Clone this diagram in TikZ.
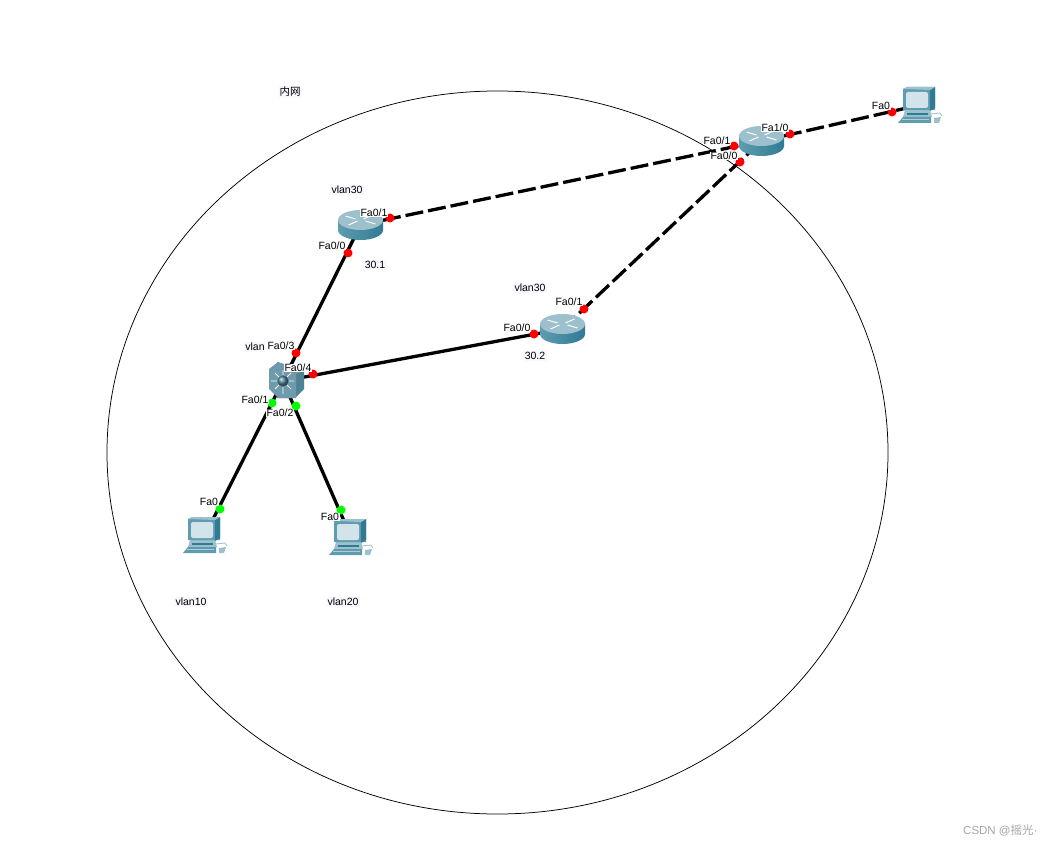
\documentclass[tikz,border=0pt]{standalone}
\usepackage{fontspec}
\usetikzlibrary{shapes.geometric}
\setmainfont{Liberation Sans}
\newfontfamily\cjkf{Noto Sans CJK SC}
\definecolor{tealdark}{HTML}{2F7B93}
\definecolor{tealmid}{HTML}{5F9CB0}
\definecolor{teallite}{HTML}{D3E3EA}
\definecolor{tealpale}{HTML}{9CC0CC}
\definecolor{swbody}{HTML}{6F9AAC}
\definecolor{swside}{HTML}{4F8296}
\definecolor{labelbg}{HTML}{F8F8FF}
\tikzset{
  x=1pt,y=-1pt,
  device/.style={inner sep=0pt,minimum size=2pt},
  link/.style={line width=3.3pt,black},
  dashlink/.style={link,dash pattern=on 18pt off 5pt},
  dotred/.style={circle,fill=red,inner sep=0pt,minimum size=9pt},
  dotgreen/.style={circle,fill=green,inner sep=0pt,minimum size=9pt},
  port/.style={fill=white,inner sep=0.5pt,font=\fontsize{10.5}{12}\selectfont,text=black},
  note/.style={fill=labelbg,inner sep=1.5pt,font=\fontsize{10.5}{12}\selectfont,text=black},
  router/.pic={
    \path[left color=tealmid,middle color=teallite,right color=tealdark]
      (-22.5,-5) -- (-22.5,5) arc[x radius=22.5,y radius=10,start angle=180,end angle=0] -- (22.5,-5) -- cycle;
    \fill[tealpale] (0,-5) ellipse[x radius=22.5,y radius=10];
    \draw[white,line width=1pt] (-15,-9) -- (-5,-6) (15,-1) -- (5,-4) (-12,0) -- (-3,-4) (12,-10) -- (3,-6);
  },
  switchicon/.pic={
    \fill[swside] (-6,-19) -- (21,-10) -- (21,8) -- (12,17) -- (-6,17) -- cycle;
    \fill[swbody] (-14,-12) -- (-5,-19) -- (21,-10) -- (13,-7) -- (13,17) -- (-5,17) -- (-14,8) -- cycle;
    \draw[white,line width=0.9pt] (-6,0) -- (-12,0) (6,0) -- (11,0) (0,-6) -- (0,-11) (0,6) -- (0,13)
      (-4,-4) -- (-8,-8) (4,-4) -- (8,-8) (-4,4) -- (-8,8) (4,4) -- (8,8);
    \shade[ball color=swside] (0,0) circle[radius=5.5];
  },
  pcicon/.pic={
    \fill[tealpale] (-15,5) -- (10,5) -- (12,12) -- (-17,12) -- cycle;
    \fill[tealmid] (-17,-16) -- (-13,-18) -- (15,-18) -- (15,5) -- (-17,5) -- cycle;
    \fill[tealdark] (10,-15) -- (15,-18) -- (15,3) -- (10,6) -- cycle;
    \fill[tealpale] (-17,-16) -- (-13,-18) -- (15,-18) -- (10,-15) -- cycle;
    \fill[teallite,rounded corners=2pt] (-14,-13) rectangle (8,3);
    \fill[tealdark] (-13,8) rectangle (8,10);
    \fill[tealmid] (-22,18) -- (-17,12) -- (11,12) -- (11,18) -- cycle;
    \fill[teallite!70!tealmid] (-18,14) rectangle (9,15);
    \draw[tealpale,line width=0.8pt] (11,9) -- (20,8) -- (22,11);
    \fill[tealpale] (14,13) -- (21,12) -- (19,18) -- (14,18) -- cycle;
  }
}
\begin{document}
\begin{tikzpicture}
\useasboundingbox (0,0) rectangle (1055,845);
\fill[white] (0,0) rectangle (1055,845);
\node[draw=black,line width=0.75pt,ellipse,inner sep=0pt,minimum width=781pt,minimum height=723pt] (boundary) at (497.5,452.5) {};

\node[device] (rA) at (360.5,225) {};
\node[device] (rB) at (562.5,329) {};
\node[device] (rC) at (761.5,141) {};
\node[device] (sw) at (283,381) {};
\node[device] (pcA) at (205,535) {};
\node[device] (pcB) at (351,537) {};
\node[device] (pcC) at (920,105) {};

\draw[dashlink] (rA.center) -- (rC.center);
\draw[dashlink] (rB.center) -- (rC.center);
\draw[dashlink] (rC.center) -- (pcC.center);
\draw[link] (sw.center) -- (rA.center);
\draw[link] (sw.center) -- (rB.center);
\draw[link] (sw.center) -- (pcA.center);
\draw[link] (sw.center) -- (pcB.center);

\pic at (rA.center) {router};
\pic at (rB.center) {router};
\pic at (rC.center) {router};
\pic at (sw.center) {switchicon};
\pic at (pcA.center) {pcicon};
\pic at (pcB.center) {pcicon};
\pic at (pcC.center) {pcicon};

\node[dotred] (d1) at (390,218) {};
\node[dotred] (d2) at (348,253) {};
\node[dotred] (d3) at (584,309) {};
\node[dotred] (d4) at (534,334) {};
\node[dotred] (d5) at (296,353) {};
\node[dotred] (d6) at (313,374) {};
\node[dotgreen] (d7) at (272,403) {};
\node[dotgreen] (d8) at (296,406) {};
\node[dotgreen] (d9) at (220,509) {};
\node[dotgreen] (d10) at (341,510) {};
\node[dotred] (d11) at (734,146) {};
\node[dotred] (d12) at (740,162) {};
\node[dotred] (d13) at (790,134) {};
\node[dotred] (d14) at (892,112) {};

\node[note] (t1) at (290,92) {\cjkf 内网};
\node[note] (t2) at (347,190) {vlan30};
\node[note] (t3) at (530,288) {vlan30};
\node[note] (t4) at (375,265) {30.1};
\node[note] (t5) at (535,356) {30.2};
\node[note] (t6) at (255,347) {vlan};
\node[note] (t7) at (191,602) {vlan10};
\node[note] (t8) at (343,602) {vlan20};

\node[port] (p1) at (374,213) {Fa0/1};
\node[port] (p2) at (332,246) {Fa0/0};
\node[port] (p3) at (569,302) {Fa0/1};
\node[port] (p4) at (517,328) {Fa0/0};
\node[port] (p5) at (281,346) {Fa0/3};
\node[port] (p6) at (298,368) {Fa0/4};
\node[port] (p7) at (255,400) {Fa0/1};
\node[port] (p8) at (280,413) {Fa0/2};
\node[port] (p9) at (209,502) {Fa0};
\node[port] (p10) at (330,517) {Fa0};
\node[port] (p11) at (717,141) {Fa0/1};
\node[port] (p12) at (724,156) {Fa0/0};
\node[port] (p13) at (775,128) {Fa1/0};
\node[port] (p14) at (881,106) {Fa0};

\node[anchor=west,inner sep=0pt,text=black!35,font=\fontsize{11.5}{13}\selectfont] (wm) at (963,830) {CSDN @{\cjkf 摇光}·};
\end{tikzpicture}
\end{document}
